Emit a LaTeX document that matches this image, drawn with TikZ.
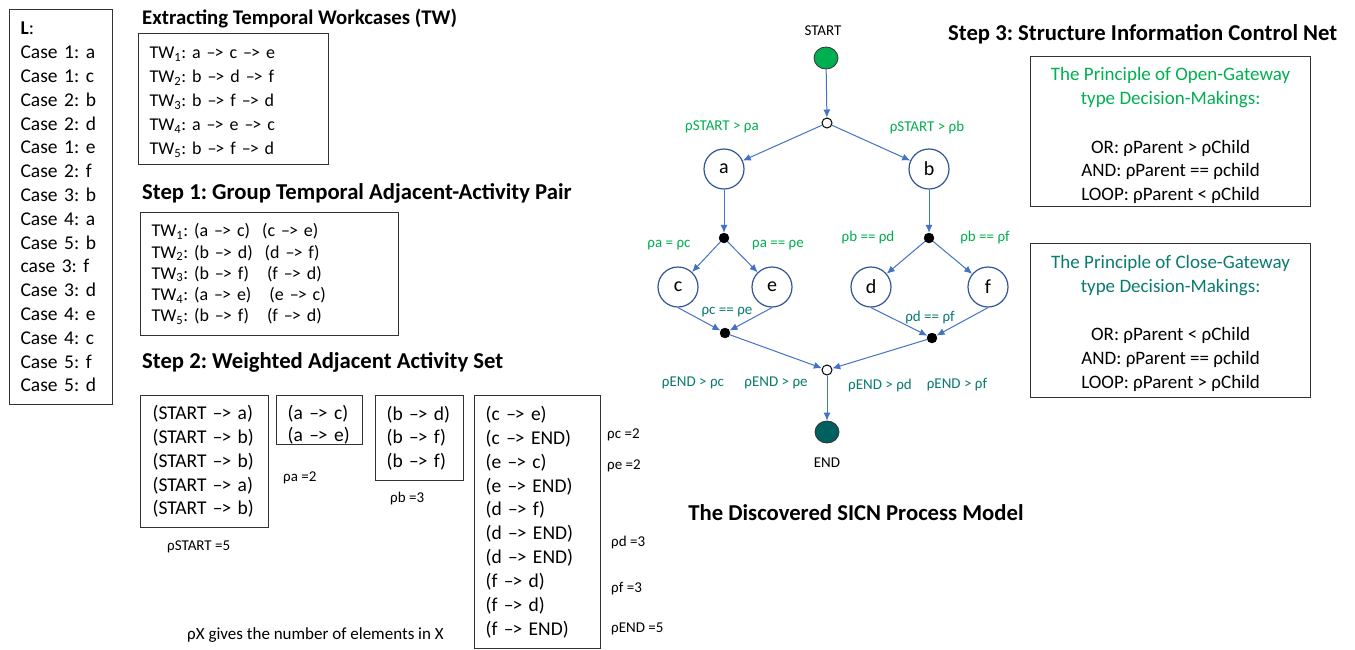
\documentclass[tikz,border=0pt]{standalone}
\usepackage{fontspec}
\setmainfont{Carlito}
\usetikzlibrary{arrows.meta,shapes.geometric}
\definecolor{flowblue}{HTML}{4472C4}
\definecolor{nodeblue}{HTML}{2F5597}
\definecolor{opengreen}{HTML}{00B050}
\definecolor{closeteal}{HTML}{0A7B70}
\definecolor{endteal}{HTML}{006060}
\definecolor{boxgray}{HTML}{333333}
\frenchspacing
\newcommand\tarrow{\textendash\kern-0.06em>}
\newcommand\tw[1]{TW\textsubscript{#1}}
\newcommand\topstrut[1]{\rule{0pt}{#1}}
\begin{document}
\begin{tikzpicture}[x=1pt,y=-1pt,
  heading/.style={font=\bfseries\fontsize{22.7}{26}\selectfont, anchor=west, inner sep=0pt},
  listbox/.style={draw=boxgray, line width=1.2pt, anchor=north west, inner xsep=11pt,
    inner ysep=0pt, align=left, font=\fontsize{19.5}{23.8}\selectfont},
  rulebox/.style={draw=boxgray, line width=1.2pt, anchor=north west, inner sep=0pt,
    align=center, font=\fontsize{19}{23.8}\selectfont},
  note/.style={font=\fontsize{15}{18}\selectfont, anchor=west, inner sep=0pt},
  glabel/.style={font=\fontsize{15}{18}\selectfont, text=opengreen, inner sep=0pt},
  tlabel/.style={font=\fontsize{15}{18}\selectfont, text=closeteal, inner sep=0pt},
  activity/.style={circle, draw=nodeblue, line width=1.2pt, fill=white, minimum size=40pt,
    inner sep=0pt, font=\fontsize{20}{24}\selectfont},
  opengate/.style={circle, draw=black, line width=1pt, fill=white, minimum size=10pt, inner sep=0pt},
  closegate/.style={circle, draw=black, fill=black, minimum size=10pt, inner sep=0pt},
  terminal/.style={ellipse, draw=boxgray, line width=0.8pt, minimum width=24pt, minimum height=22pt, inner sep=0pt},
  flow/.style={draw=flowblue, line width=1pt, -{Latex[length=8pt,width=7pt]}}
]
\clip (0,0) rectangle (1355,649);
\fill[white] (0,0) rectangle (1355,649);

% ---------- event log ----------
\node[listbox, minimum width=103pt, minimum height=395pt, text width=81pt] (log) at (9,9)
  {\textbf{L}:\\Case 1: a\\Case 1: c\\Case 2: b\\Case 2: d\\Case 1: e\\Case 2: f\\Case 3: b\\
   Case 4: a\\Case 5: b\\case 3: f\\Case 3: d\\Case 4: e\\Case 4: c\\Case 5: f\\Case 5: d};

% ---------- temporal workcases ----------
\node[heading, font=\bfseries\fontsize{20.8}{24}\selectfont] (hTW) at (142,19) {Extracting Temporal Workcases (TW)};
\node[listbox, font=\fontsize{18}{24}\selectfont, minimum width=190pt, minimum height=131pt, text width=168pt] (twbox) at (138,33)
  {\topstrut{20pt}\tw{1}: a \tarrow{} c \tarrow{} e\\\tw{2}: b \tarrow{} d \tarrow{} f\\\tw{3}: b \tarrow{} f \tarrow{} d\\
   \tw{4}: a \tarrow{} e \tarrow{} c\\\tw{5}: b \tarrow{} f \tarrow{} d\rule[-5pt]{0pt}{5pt}};

% ---------- step 1 ----------
\node[heading] (hS1) at (142,193) {Step 1: Group Temporal Adjacent-Activity Pair};
\node[listbox, font=\fontsize{18}{21.2}\selectfont, minimum width=258pt, minimum height=123pt, text width=236pt] (pairbox) at (140,212)
  {\tw{1}: (a \tarrow{} c)\ \ (c \tarrow{} e)\\\tw{2}: (b \tarrow{} d)\ \ (d \tarrow{} f)\\
   \tw{3}: (b \tarrow{} f)\ \ \ (f \tarrow{} d)\\\tw{4}: (a \tarrow{} e)\ \ \ (e \tarrow{} c)\\
   \tw{5}: (b \tarrow{} f)\ \ \ (f \tarrow{} d)};

% ---------- step 2 ----------
\node[heading] (hS2) at (142,362) {Step 2: Weighted Adjacent Activity Set};
\node[listbox, inner xsep=12pt, font=\fontsize{19.5}{23.7}\selectfont, minimum width=128pt, minimum height=132pt, text width=104pt] (setstart) at (140,395)
  {(START \tarrow{} a)\\(START \tarrow{} b)\\(START \tarrow{} b)\\(START \tarrow{} a)\\(START \tarrow{} b)};
\node[listbox, font=\fontsize{19.5}{22}\selectfont, minimum width=86pt, minimum height=48pt, text width=64pt] (seta) at (276,395)
  {\topstrut{24pt}(a \tarrow{} c)\\(a \tarrow{} e)};
\node[listbox, font=\fontsize{19.5}{23.7}\selectfont, minimum width=88pt, minimum height=85pt, text width=66pt] (setb) at (375,395)
  {(b \tarrow{} d)\\(b \tarrow{} f)\\(b \tarrow{} f)};
\node[listbox, font=\fontsize{19.5}{23.85}\selectfont, minimum width=126pt, minimum height=253pt, text width=104pt] (setrest) at (474,395)
  {(c \tarrow{} e)\\(c \tarrow{} END)\\(e \tarrow{} c)\\(e \tarrow{} END)\\(d \tarrow{} f)\\
   (d \tarrow{} END)\\(d \tarrow{} END)\\(f \tarrow{} d)\\(f \tarrow{} d)\\(f \tarrow{} END)};

\node[note] (wstart) at (167,547) {ρSTART =5};
\node[note] (wa) at (283,478) {ρa =2};
\node[note] (wb) at (390,498) {ρb =3};
\node[note] (wc) at (607,435) {ρc =2};
\node[note] (we) at (607,466) {ρe =2};
\node[note] (wd) at (611,542) {ρd =3};
\node[note] (wf) at (611,589) {ρf =3};
\node[note] (wend) at (611,629) {ρEND =5};
\node[note, font=\fontsize{17}{20}\selectfont] (wnote) at (187,635) {ρX gives the number of elements in X};

% ---------- SICN process model ----------
\node[font=\fontsize{15}{18}\selectfont, inner sep=0pt] (startlbl) at (823,31) {START};
\node[terminal, fill=opengreen] (start) at (826,58) {};
\node[opengate] (og) at (827,123) {};
\node[activity] (a) at (724,169) {a};
\node[activity] (b) at (929,169) {b};
\node[closegate] (ja) at (724,238) {};
\node[closegate] (jb) at (929,238) {};
\node[activity] (c) at (678,287) {c};
\node[activity] (e) at (772,287) {e};
\node[activity] (d) at (871,287) {d};
\node[activity] (f) at (988,287) {f};
\node[closegate] (jc) at (725,333) {};
\node[closegate] (jd) at (932,338) {};
\node[opengate] (cg) at (827,370) {};
\node[terminal, fill=endteal] (end) at (827,432) {};
\node[font=\fontsize{15}{18}\selectfont, inner sep=0pt] (endlbl) at (827,463) {END};

\draw[flow] (start) -- (og);
\draw[flow] (og) -- (a);
\draw[flow] (og) -- (b);
\draw[flow] (a) -- (ja);
\draw[flow] (b) -- (jb);
\draw[flow] (ja) -- (c);
\draw[flow] (ja) -- (e);
\draw[flow] (jb) -- (d);
\draw[flow] (jb) -- (f);
\draw[flow] (c.south) -- (jc);
\draw[flow] (e.south) -- (jc);
\draw[flow] (d.south) -- (jd);
\draw[flow] (f.south) -- (jd);
\draw[flow] (jc) -- (cg);
\draw[flow] (jd) -- (cg);
\draw[flow] (cg) -- (end);

\node[glabel] (lsa) at (722,127) {ρSTART > ρa};
\node[glabel] (lsb) at (927,127) {ρSTART > ρb};
\node[glabel] (lac) at (669,245) {ρa = ρc};
\node[glabel] (lae) at (778,245) {ρa == ρe};
\node[glabel] (lbd) at (868,237) {ρb == ρd};
\node[glabel] (lbf) at (985,237) {ρb == ρf};
\node[tlabel] (lce) at (727,312) {ρc == ρe};
\node[tlabel] (ldf) at (930,317) {ρd == ρf};
\node[tlabel] (lec) at (693,383) {ρEND > ρc};
\node[tlabel] (lee) at (776,383) {ρEND > ρe};
\node[tlabel] (led) at (880,385) {ρEND > ρd};
\node[tlabel] (lef) at (957,385) {ρEND > ρf};

\node[heading, anchor=center] (hmodel) at (856,513) {The Discovered SICN Process Model};

% ---------- step 3 ----------
\node[heading] (hS3) at (948,34) {Step 3: Structure Information Control Net};
\node[rulebox, minimum width=280pt, minimum height=150pt] (openrule) at (1030,56)
  {\topstrut{21pt}\textcolor{opengreen}{The Principle of Open-Gateway}\\\textcolor{opengreen}{type Decision-Makings:}\\[25pt]
   OR: ρParent > ρChild\\AND: ρParent == ρchild\\LOOP: ρParent < ρChild};
\node[rulebox, minimum width=280pt, minimum height=154pt] (closerule) at (1030,243)
  {\topstrut{19pt}\textcolor{closeteal}{The Principle of Close-Gateway}\\\textcolor{closeteal}{type Decision-Makings:}\\[24pt]
   OR: ρParent < ρChild\\AND: ρParent == ρchild\\LOOP: ρParent > ρChild};
\end{tikzpicture}
\end{document}
